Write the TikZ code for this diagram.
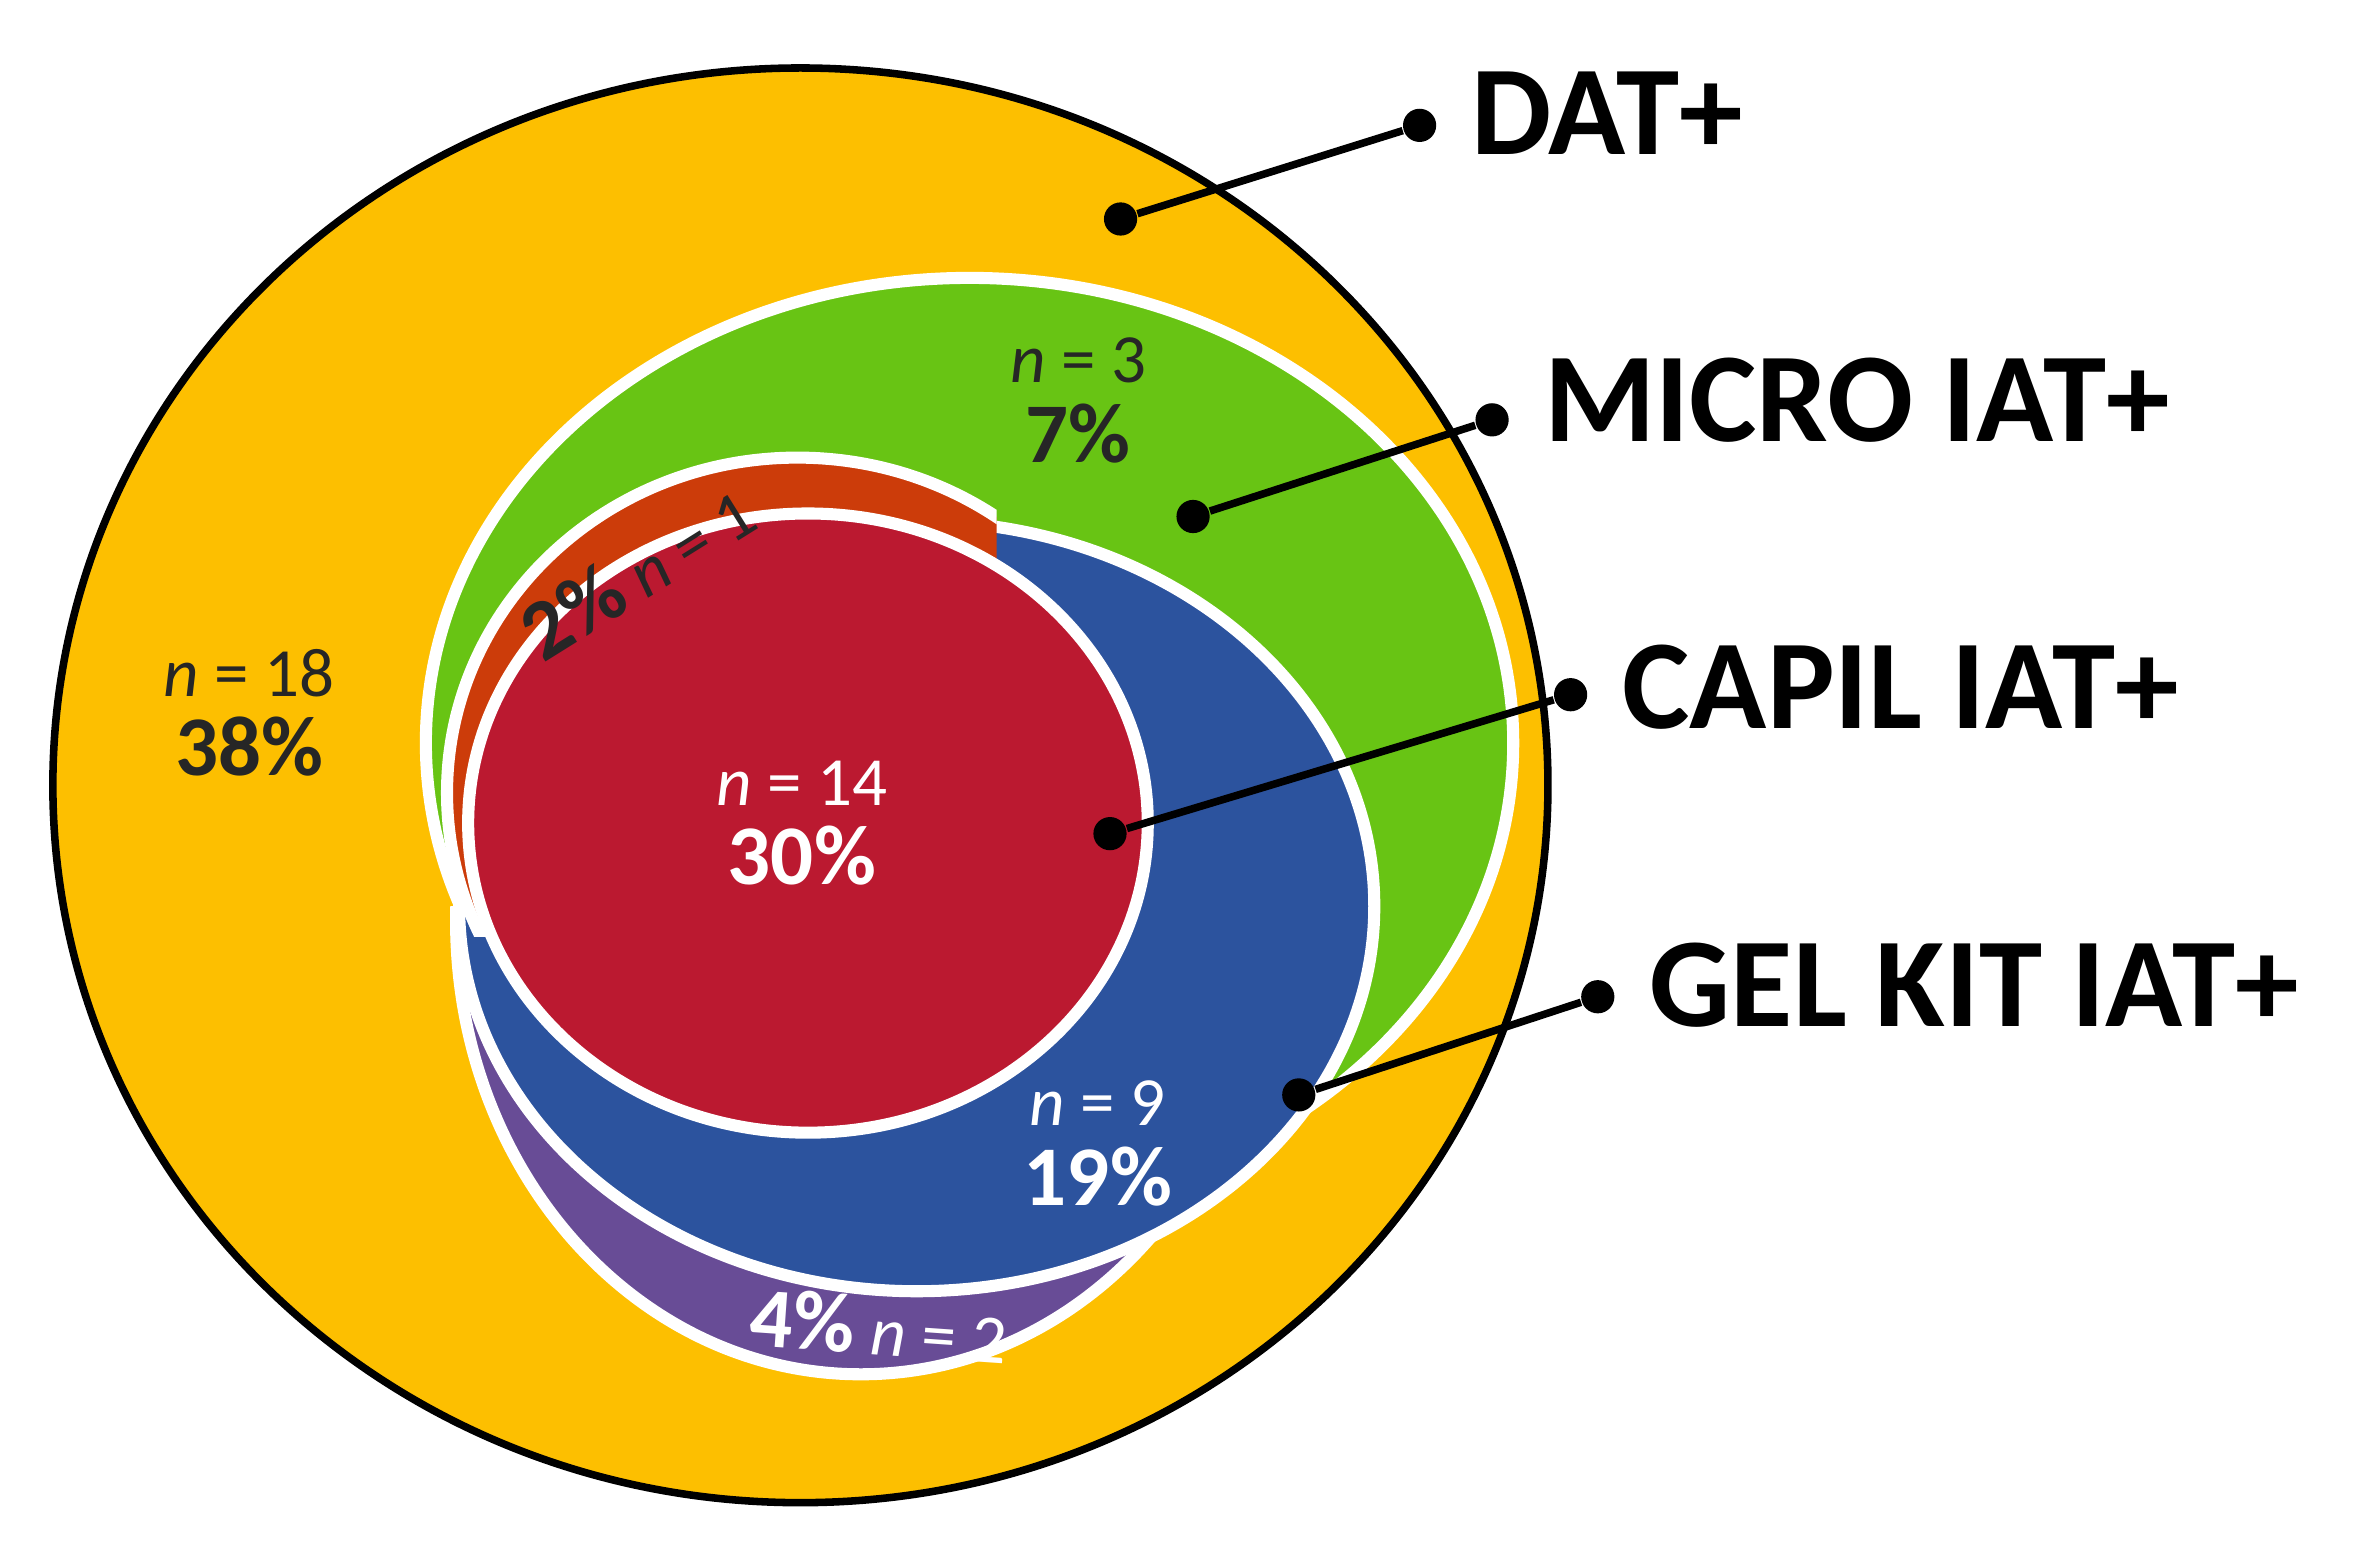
\documentclass[tikz,border=0pt]{standalone}
\usepackage{fontspec}
\setmainfont{Carlito}
\newcommand\pcf{\fontsize{16}{16}\selectfont\bfseries}
\begin{document}
\begin{tikzpicture}[x=0.1mm,y=-0.1mm,
  ring/.style={draw=white,line width=0.8mm},
  lead/.style={line width=0.5mm},
  dotc/.style={circle,fill=black,inner sep=0pt,minimum size=2.2mm},
  lab/.style={anchor=west,font=\fontsize{24}{24}\selectfont\bfseries},
  num/.style={align=center,font=\fontsize{13}{15}\selectfont}]
\useasboundingbox (0,0) rectangle (1568,1026);
\fill[white] (0,0) rectangle (1568,1026);
\path[fill={rgb,255:red,253;green,191;blue,0},draw=black,line width=0.5mm] (530,520) ellipse [x radius=495,y radius=475];
\path[fill={rgb,255:red,104;green,196;blue,20},ring] (642,492) ellipse [x radius=360,y radius=308];
\begin{scope}
\clip (0,600) rectangle (1568,1026);
\path[fill={rgb,255:red,104;green,76;blue,150},ring] (570,610) ellipse [x radius=268,y radius=300];
\end{scope}
\path[fill={rgb,255:red,44;green,83;blue,158},ring] (607,600) ellipse [x radius=303,y radius=255];
\begin{scope}
\clip (0,0) rectangle (660,620);
\path[fill={rgb,255:red,204;green,60;blue,10},ring] (528,525) ellipse [x radius=232,y radius=222];
\end{scope}
\path[fill={rgb,255:red,187;green,25;blue,48},ring] (535,545) ellipse [x radius=225,y radius=205];

\node[dotc] (d1) at (742,145) {}; \node[dotc] (e1) at (940,83) {};
\draw[lead] (d1) -- (e1); \node[lab] (t1) at (962,75) {DAT+};
\node[dotc] (d2) at (790,342) {}; \node[dotc] (e2) at (988,278) {};
\draw[lead] (d2) -- (e2); \node[lab] (t2) at (1010,265) {MICRO IAT+};
\node[dotc] (d3) at (735,552) {}; \node[dotc] (e3) at (1040,460) {};
\draw[lead] (d3) -- (e3); \node[lab] (t3) at (1062,455) {CAPIL IAT+};
\node[dotc] (d4) at (860,725) {}; \node[dotc] (e4) at (1058,660) {};
\draw[lead] (d4) -- (e4); \node[lab] (t4) at (1080,652) {GEL KIT IAT+};

\node[num,text=black!85] (a) at (165,472) {\textit{n} = 18\\{\pcf 38\%}};
\node[num,text=black!85] (b) at (714,265) {\textit{n} = 3\\{\pcf 7\%}};
\node[num,text=white] (c) at (531,545) {\textit{n} = 14\\{\pcf 30\%}};
\node[num,text=white] (d) at (727,757) {\textit{n} = 9\\{\pcf 19\%}};
\node[num,text=black!85,rotate=32] (e) at (422,378) {{\pcf 2\%} \textit{n} = 1};
\node[num,text=white,rotate=-4] (f) at (582,878) {{\pcf 4\%} \textit{n} = 2};
\end{tikzpicture}
\end{document}
